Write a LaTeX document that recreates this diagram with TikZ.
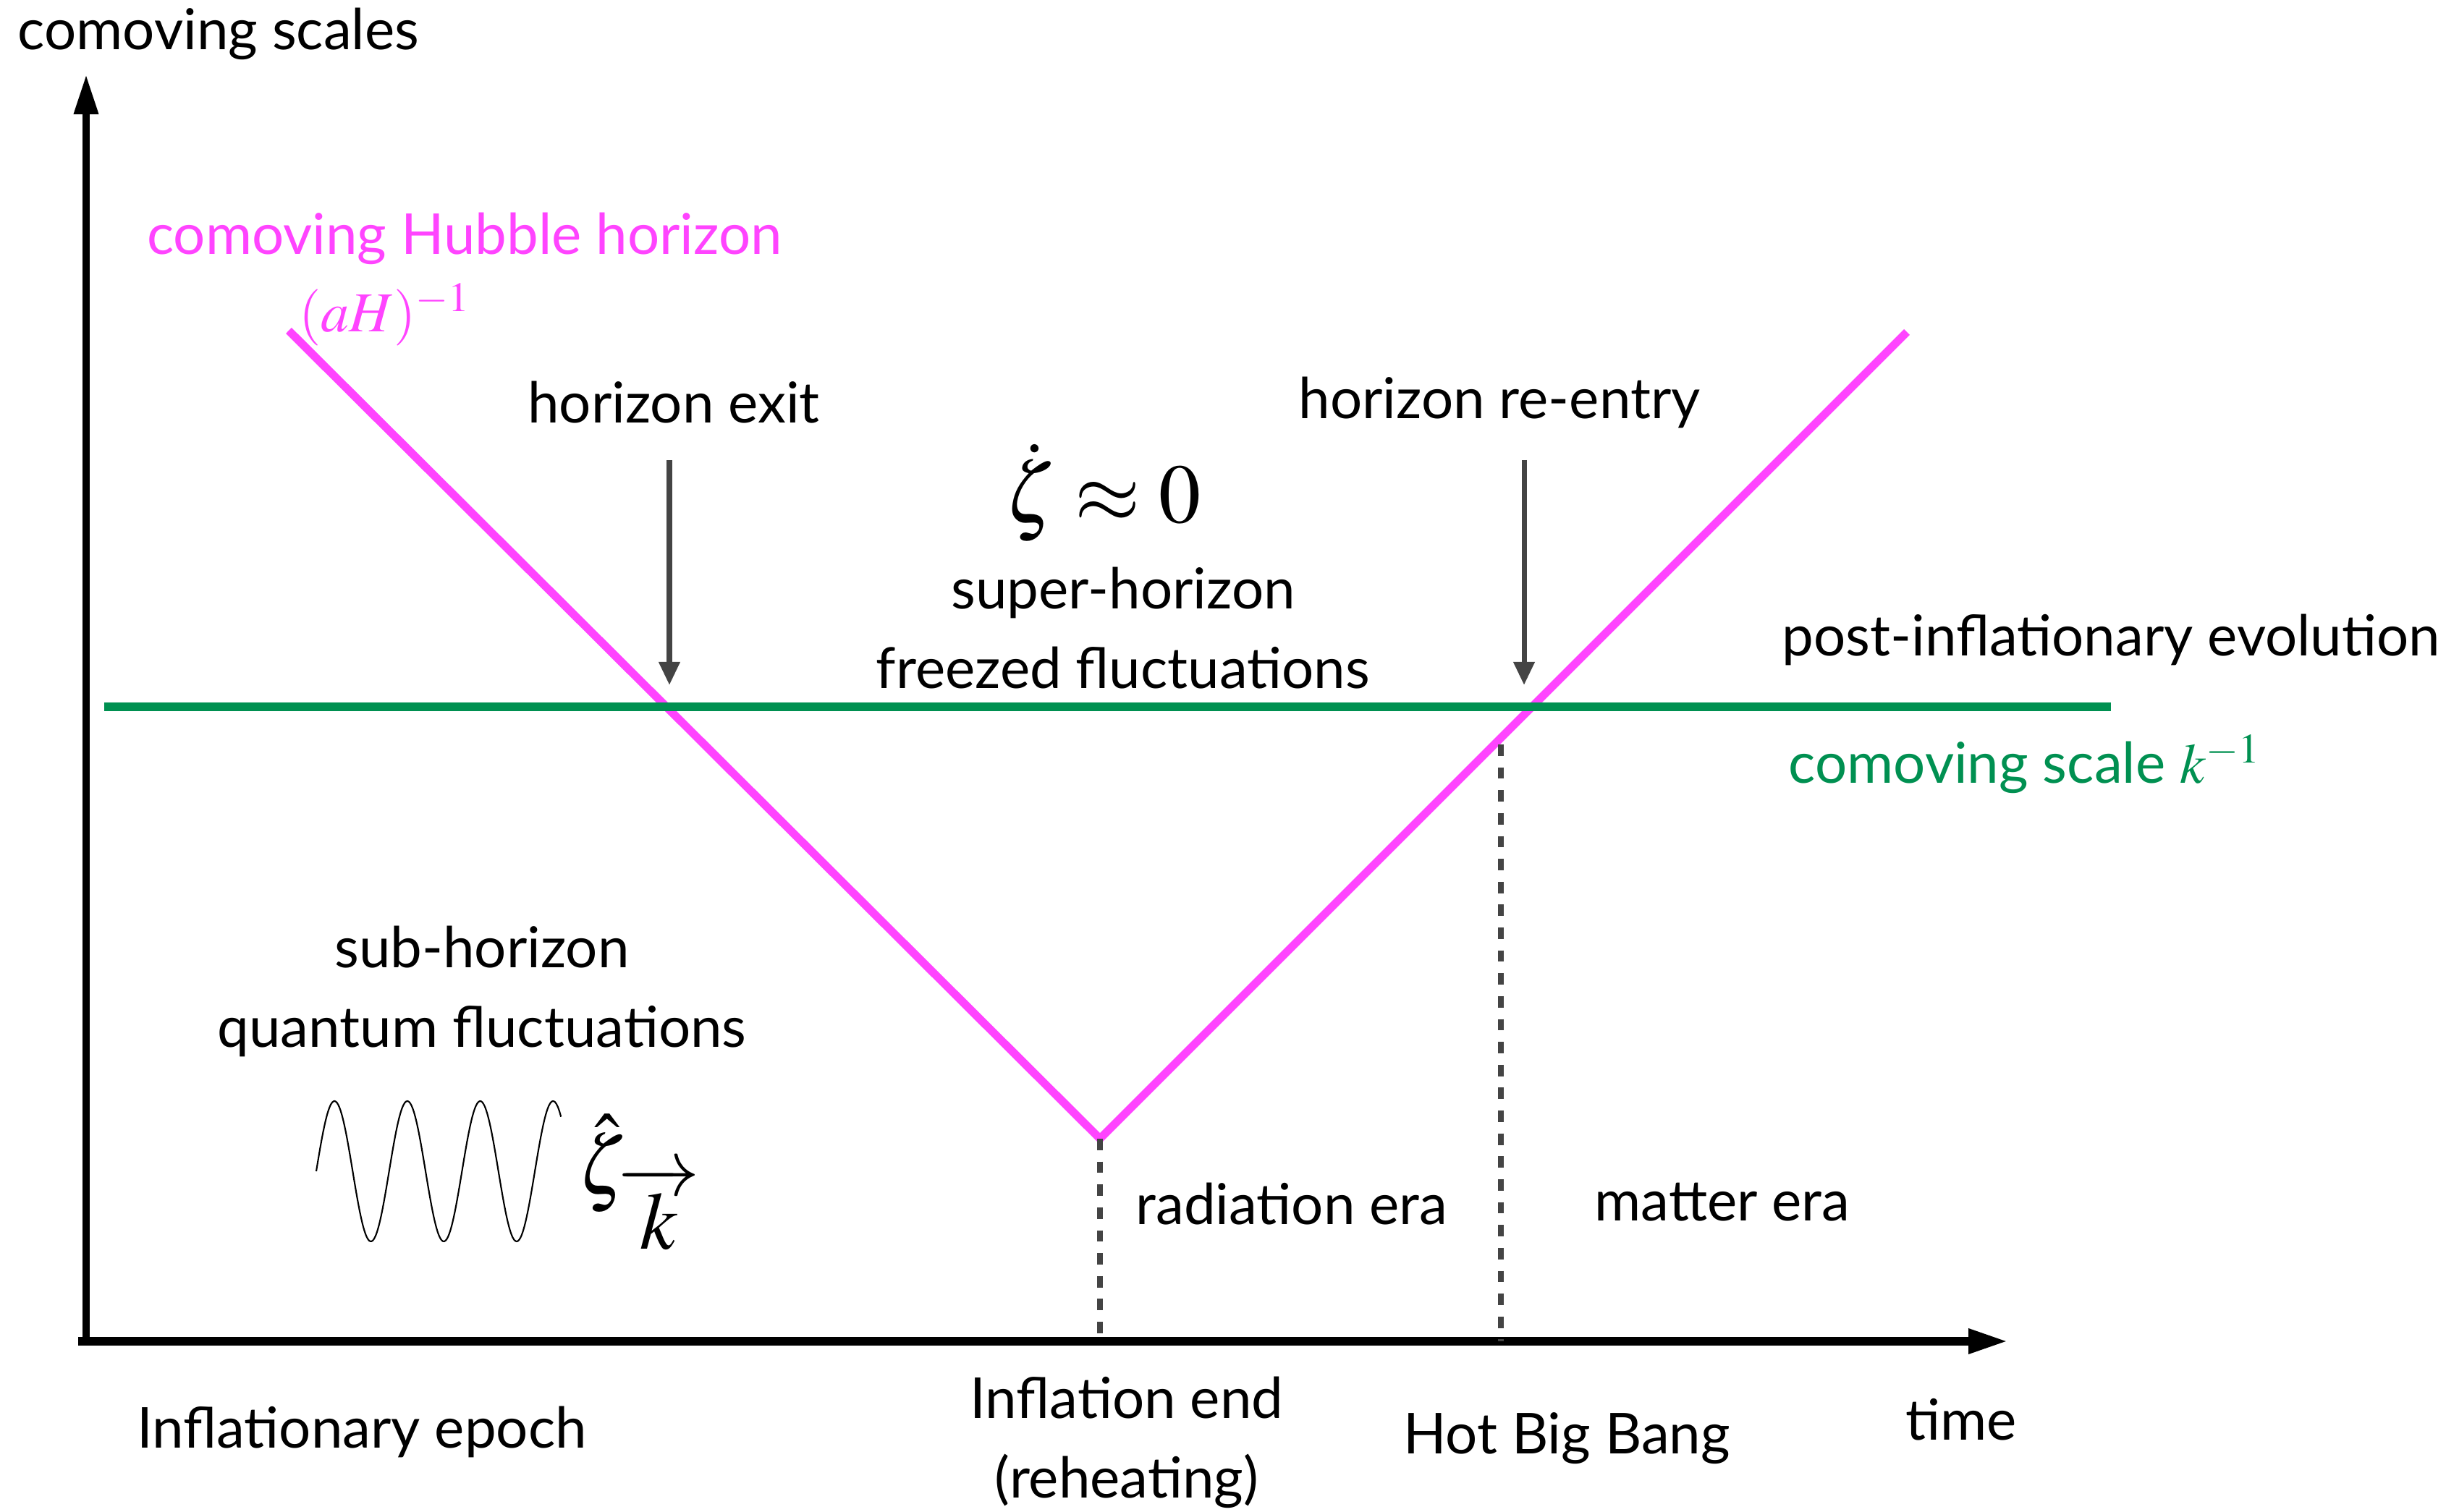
\documentclass[tikz,border=0pt]{standalone}
\usepackage{mathptmx}
\usepackage[no-math]{fontspec}
\setmainfont{Lato}
\usetikzlibrary{arrows.meta, positioning}
\definecolor{hubblemag}{HTML}{FF44FF}
\definecolor{scalegreen}{HTML}{009051}
\definecolor{markgray}{HTML}{444444}
\tikzset{
  lbl/.style={font=\fontsize{22.2}{31.3}\selectfont, align=center,
    inner sep=0pt},
  biglbl/.style={font=\fontsize{33}{40}\selectfont, inner sep=0pt},
  axis/.style={line width=#1, -{Triangle[length=0.55cm, width=0.32cm]}},
  horizon/.style={hubblemag, line width=3.2pt},
  kscale/.style={scalegreen, line width=3.2pt},
  marker/.style={markgray, line width=2pt,
    -{Triangle[length=0.32cm, width=0.28cm]}},
  guide/.style={markgray, line width=2.2pt, dash pattern=on 4.5pt off 4.5pt}
}

\begin{document}
\begin{tikzpicture}
  \useasboundingbox (0,0) rectangle (33.8,20.89);

  % axes
  \coordinate (origin) at (1.19,2.35);
  \coordinate (xstart) at (1.08,2.35);
  \coordinate (xtip) at (27.75,2.35);
  \coordinate (ytip) at (1.19,19.86);
  \draw[axis=3.4pt] (xstart) -- (xtip);
  \draw[axis=2.8pt] (origin) -- (ytip);
  \node[lbl] (yname) at (3.02,20.42) {comoving scales};
  \node[lbl] (xname) at (27.10,1.27) {time};

  % comoving Hubble horizon
  \coordinate (hstart) at (3.99,16.32);
  \coordinate (hend) at (15.20,5.15);
  \coordinate (hre) at (26.35,16.30);
  \draw[horizon] (hstart) -- (hend) -- (hre);
  \node[lbl, text=hubblemag] (hname) at (6.42,17.59) {comoving Hubble horizon};
  \node[lbl, text=hubblemag] (hmath) at (5.32,16.54) {$(aH)^{-1}$};

  % comoving scale
  \coordinate (kstart) at (1.44,11.12);
  \coordinate (kend) at (29.17,11.12);
  \draw[kscale] (kstart) -- (kend);
  \node[lbl, anchor=west] (post) at (24.62,12.05) {post-inflationary evolution};
  \node[lbl, anchor=west, text=scalegreen] (kname) at (24.71,10.33)
    {comoving scale $k^{-1}$};

  % horizon crossings
  \node[lbl] (exit) at (9.31,15.33) {horizon exit};
  \node[lbl] (reentry) at (20.72,15.33) {horizon re-entry};
  \coordinate (exittop) at (9.25,14.53);
  \coordinate (exitpt) at (9.25,11.42);
  \coordinate (retop) at (21.06,14.53);
  \coordinate (rept) at (21.06,11.42);
  \draw[marker] (exittop) -- (exitpt);
  \draw[marker] (retop) -- (rept);

  \node[biglbl] (frozen) at (15.24,14.08) {$\dot\zeta\approx 0$};
  \node[lbl] (super) at (15.52,12.21)
    {super-horizon\\freezed fluctuations};

  % sub-horizon
  \node[lbl] (sub) at (6.66,7.19) {sub-horizon\\quantum fluctuations};
  \draw[line width=0.6pt, domain=0:3.36, samples=200, smooth]
    plot ({4.37+\x*1.007}, {4.70+0.97*sin(360*\x)});
  \node[font=\fontsize{32}{38}\selectfont, inner sep=0pt, anchor=west]
    (mode) at (7.98,4.55) {$\hat\zeta_{\overrightarrow{k}}$};

  % eras
  \coordinate (endbase) at (15.20,2.35);
  \coordinate (hbbtop) at (20.74,10.60);
  \coordinate (hbbbase) at (20.74,2.35);
  \draw[guide] (hend) -- (endbase);
  \draw[guide] (hbbtop) -- (hbbbase);
  \node[lbl] (rad) at (17.85,4.25) {radiation era};
  \node[lbl] (mat) at (23.80,4.27) {matter era};

  % epochs
  \node[lbl] (infl) at (5.00,1.10) {Inflationary epoch};
  \node[lbl] (iend) at (15.57,0.95) {Inflation end\\(reheating)};
  \node[lbl] (hbb) at (21.65,1.01) {Hot Big Bang};
\end{tikzpicture}
\end{document}
